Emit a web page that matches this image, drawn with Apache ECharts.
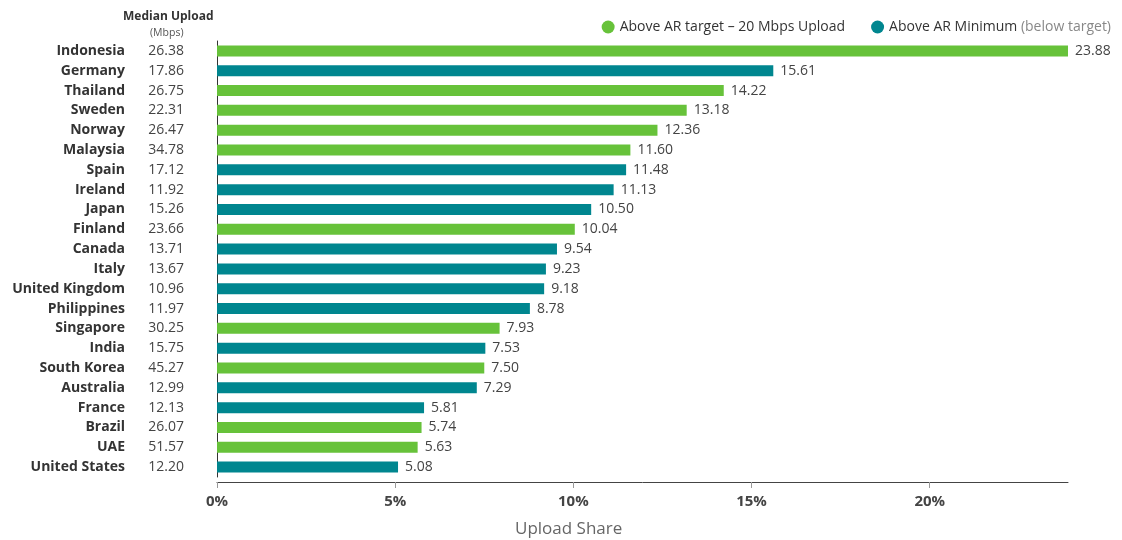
<!DOCTYPE html>
<html>
<head>
<meta charset="utf-8">
<script src="https://cdn.jsdelivr.net/npm/echarts@6/dist/echarts.min.js"></script>
<style>
  html, body { margin: 0; padding: 0; background: #ffffff; }
  #chart { width: 1122px; height: 540px; }
</style>
</head>
<body>
<div id="chart"></div>
<script>
// Countries ranked by upload share, top to bottom
const countries = ['Indonesia', 'Germany', 'Thailand', 'Sweden', 'Norway', 'Malaysia', 'Spain', 'Ireland', 'Japan', 'Finland', 'Canada', 'Italy', 'United Kingdom', 'Philippines', 'Singapore', 'India', 'South Korea', 'Australia', 'France', 'Brazil', 'UAE', 'United States'];
// Median upload speed (Mbps)
const medianUpload = ['26.38', '17.86', '26.75', '22.31', '26.47', '34.78', '17.12', '11.92', '15.26', '23.66', '13.71', '13.67', '10.96', '11.97', '30.25', '15.75', '45.27', '12.99', '12.13', '26.07', '51.57', '12.20'];
// Upload share (%)
const uploadShare = [23.88, 15.61, 14.22, 13.18, 12.36, 11.60, 11.48, 11.13, 10.50, 10.04, 9.54, 9.23, 9.18, 8.78, 7.93, 7.53, 7.50, 7.29, 5.81, 5.74, 5.63, 5.08];
// Tick values on the share axis
const shareTicks = [0, 5, 10, 15, 20];
const targetMbps = 20;

const GREEN = '#67c23a';
const TEAL = '#00868f';
const FONT = '"Open Sans", "Noto Sans", sans-serif';

const aboveTarget = uploadShare.map((v, i) => parseFloat(medianUpload[i]) >= targetMbps ? v : '-');
const belowTarget = uploadShare.map((v, i) => parseFloat(medianUpload[i]) >= targetMbps ? '-' : v);

const valueLabel = {
  show: true,
  position: 'right',
  distance: 7,
  color: '#444',
  fontFamily: FONT,
  fontSize: 14,
  formatter: p => p.value.toFixed(2)
};

const chart = echarts.init(document.getElementById('chart'), null, { renderer: 'canvas' });
chart.setOption({
  animation: false,
  textStyle: { fontFamily: FONT },
  grid: { left: 217, right: 54, top: 41, bottom: 63, containLabel: false, outerBoundsMode: 'none' },
  legend: {
    right: 6,
    top: 15,
    icon: 'circle',
    itemWidth: 13,
    itemHeight: 13,
    itemGap: 26,
    textStyle: {
      fontFamily: FONT, fontSize: 14, color: '#333',
      rich: { sub: { fontFamily: FONT, fontSize: 14, color: '#888' } }
    },
    formatter: name => name === 'Above AR Minimum' ? 'Above AR Minimum {sub|(below target)}' : name,
    data: ['Above AR target – 20 Mbps Upload', 'Above AR Minimum']
  },
  graphic: [
    {
      type: 'text', left: 123, top: 11,
      style: { text: 'Median Upload', fontFamily: FONT, fontSize: 12, fontWeight: 'bold', fill: '#333' }
    },
    {
      type: 'text', left: 150, top: 28,
      style: { text: '(Mbps)', fontFamily: FONT, fontSize: 10.5, fill: '#555' }
    },
    {
      type: 'text', left: 515, top: 521,
      style: { text: 'Upload Share', fontFamily: FONT, fontSize: 17, fill: '#666' }
    }
  ],
  xAxis: {
    type: 'value',
    min: 0,
    max: 23.88,
    offset: 5,
    splitLine: { show: false },
    axisLine: { show: true, lineStyle: { color: '#444', width: 1 } },
    axisTick: { show: true, length: 6, lineStyle: { color: '#999' }, customValues: shareTicks },
    axisLabel: {
      customValues: shareTicks,
      margin: 12,
      fontFamily: FONT, fontSize: 15, fontWeight: 'bold', color: '#444',
      formatter: v => v + '%'
    }
  },
  yAxis: [
    {
      type: 'category',
      inverse: true,
      data: countries,
      axisLine: { show: true, lineStyle: { color: '#333', width: 1 } },
      axisTick: { show: false },
      axisLabel: {
        margin: 92,
        fontFamily: FONT, fontSize: 14, fontWeight: 'bold', color: '#333'
      }
    },
    {
      type: 'category',
      inverse: true,
      position: 'left',
      data: medianUpload,
      axisLine: { show: false },
      axisTick: { show: false },
      axisLabel: {
        margin: 33,
        fontFamily: FONT, fontSize: 14, color: '#444'
      }
    }
  ],
  series: [
    {
      name: 'Above AR target – 20 Mbps Upload',
      type: 'bar',
      stack: 'share',
      barWidth: 11,
      itemStyle: { color: GREEN },
      label: valueLabel,
      data: aboveTarget
    },
    {
      name: 'Above AR Minimum',
      type: 'bar',
      stack: 'share',
      barWidth: 11,
      itemStyle: { color: TEAL },
      label: valueLabel,
      data: belowTarget
    }
  ]
});
</script>
</body>
</html>
